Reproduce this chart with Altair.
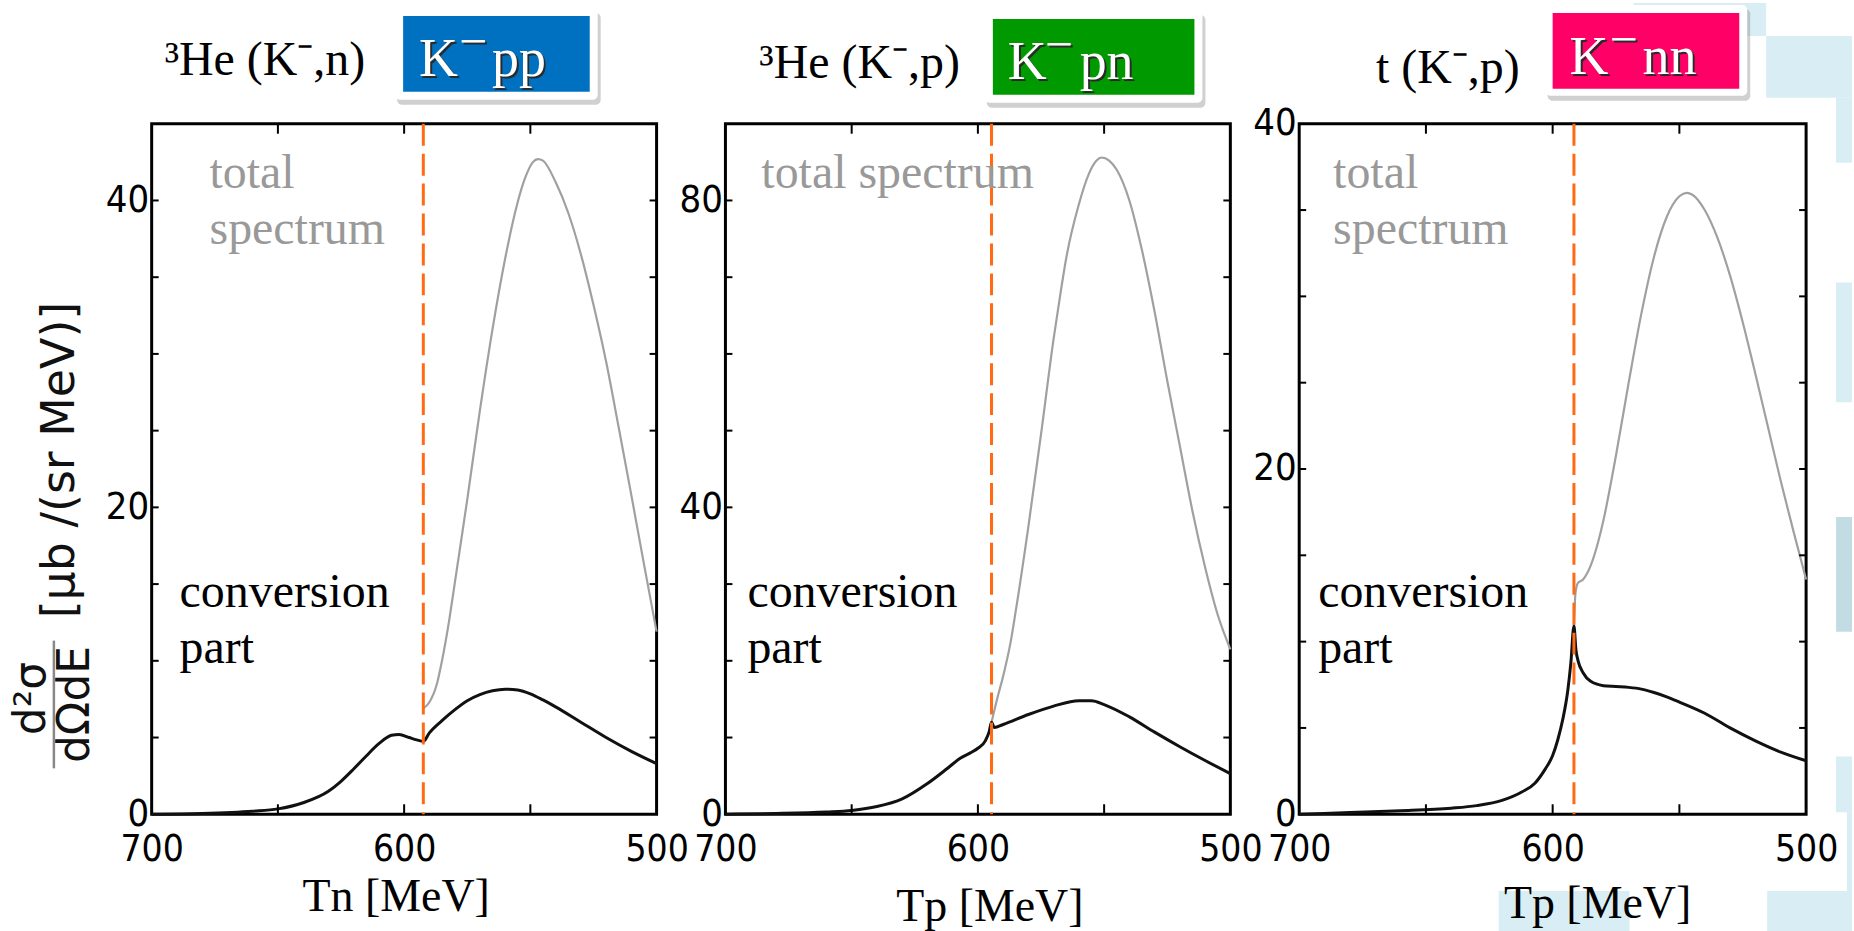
import altair as alt
import pandas as pd

# ---------------- data ----------------
# panel 1 : 3He(K-,n)  K-pp
T1_conv = [700, 680, 660, 650, 640, 630, 625, 620, 615, 610, 605, 602, 598, 595, 592.4,
           590, 585, 580, 575, 570, 565, 560, 555, 550, 545, 540, 530, 520, 510, 500]
V1_conv = [0.0, 0.05, 0.2, 0.35, 0.75, 1.5, 2.15, 2.95, 3.8, 4.6, 5.15, 5.2, 5.0, 4.85, 4.75,
           5.3, 6.1, 6.8, 7.4, 7.8, 8.05, 8.15, 8.1, 7.85, 7.45, 7.0, 6.0, 5.0, 4.1, 3.3]
T1_tot = [592.4, 590, 587, 585, 582, 580, 575, 570, 565, 560, 555, 552, 549, 547, 545,
          540, 535, 530, 525, 520, 515, 510, 505, 500]
V1_tot = [6.9, 7.3, 8.5, 10.0, 12.8, 15.0, 20.5, 26.3, 31.6, 36.2, 39.9, 41.5, 42.5, 42.7, 42.6,
          41.2, 39.2, 36.5, 33.2, 29.5, 25.2, 20.8, 16.3, 11.9]

# panel 2 : 3He(K-,p)  K-pn
T2_conv = [700, 680, 660, 650, 640, 630, 620, 612, 607, 603, 600, 597, 595.5, 594.6, 593.5,
           590, 580, 570, 560, 555, 550, 540, 530, 520, 510, 500]
V2_conv = [0.0, 0.1, 0.3, 0.5, 1.0, 2.0, 4.0, 6.0, 7.3, 8.0, 8.6, 9.6, 10.8, 12.0, 11.3,
           11.7, 13.0, 14.1, 14.8, 14.8, 14.3, 12.7, 10.7, 8.8, 7.0, 5.3]
T2_tot = [594.6, 592, 590, 587, 585, 580, 575, 570, 567, 565, 560, 556, 553, 551, 548,
          545, 540, 535, 530, 525, 520, 515, 510, 505, 500]
V2_tot = [12.0, 15.5, 18.0, 22.5, 26.5, 37.5, 49.5, 62.0, 68.5, 72.5, 79.5, 83.5, 85.2, 85.6, 85.2,
          84.0, 80.0, 73.5, 65.5, 56.5, 48.0, 39.5, 32.2, 26.0, 21.5]

# panel 3 : t(K-,p)  K-nn
T3_conv = [700, 680, 660, 640, 630, 620, 612, 607, 603, 600, 598, 596, 594, 592.8, 591.6,
           590.8, 590, 588, 585, 580, 575, 570, 565, 560, 555, 550, 540, 530, 520, 510, 500]
V3_conv = [0.0, 0.1, 0.2, 0.35, 0.5, 0.8, 1.3, 1.8, 2.6, 3.4, 4.3, 5.5, 7.2, 8.8, 10.9,
           9.5, 8.9, 8.2, 7.7, 7.45, 7.4, 7.35, 7.25, 7.05, 6.8, 6.5, 5.85, 5.0, 4.25, 3.6, 3.1]
T3_tot = [591.6, 591.0, 590, 588, 585, 582, 580, 575, 570, 565, 560, 555, 550, 547, 545,
          540, 535, 530, 525, 520, 515, 510, 505, 500]
V3_tot = [10.9, 12.8, 13.4, 13.6, 14.4, 15.8, 17.0, 20.8, 25.0, 29.0, 32.3, 34.6, 35.8, 36.0, 35.9,
          35.0, 33.4, 31.2, 28.5, 25.5, 22.4, 19.3, 16.4, 13.6]

thresholds = [592.4, 594.6, 591.6]
y_max = [45, 90, 40]
y_labels = [[0, 20, 40], [0, 40, 80], [0, 20, 40]]
y_ticks = [[5, 10, 15, 20, 25, 30, 35, 40],
           [10, 20, 30, 40, 50, 60, 70, 80],
           [5, 10, 15, 20, 25, 30, 35]]
x_labels = [700, 600, 500]
x_ticks = [650, 600, 550]
reactions = ["³He (K⁻,n)", "³He (K⁻,p)", "t (K⁻,p)"]
state_base = ["K", "K", "K"]
state_tail = ["pp", "pn", "nn"]
state_colors = ["#0070C0", "#009900", "#FF0066"]
x_titles = ["Tn [MeV]", "Tp [MeV]", "Tp [MeV]"]
total_lines = [["total", "spectrum"], ["total spectrum"], ["total", "spectrum"]]
conv_lines = ["conversion", "part"]

# ---------------- layout / style ----------------
WIDTHS = [506, 506, 508]
H = 692
SERIF = "Liberation Serif, Times New Roman, serif"
NARROW = "'Liberation Sans Narrow', 'DejaVu Sans Condensed', 'Arial Narrow', sans-serif"
SANS = "DejaVu Sans, sans-serif"
DECO = "#D8EEF4"

# per-panel placement of annotations (pixels relative to plot area)
title_pos = [(13, -49), (34, -46), (77, -41)]
box_outer = [(244, 447, -115, -24), (260, 478, -113, -21), (247, 449, -119, -28)]
box_inner = [(252, 439, -108, -32), (268, 470, -105, -29), (254, 441, -111, -35)]
# K left x, minus centre x, tail left x, baseline
box_text = [(268, 322, 341, -48), (283, 334, 355, -45), (271, 325, 344, -50)]
total_pos = [(58, 64), (36, 64), (34, 64)]
conv_pos = [(28, 484), (22, 484), (19, 484)]
xtitle_pos = [(245, 789), (265, 799), (299, 796)]


def one():
    return pd.DataFrame({"a": [0]})


def txt(s, x, y, size, color="black", font=SERIF, align="left", baseline="alphabetic", angle=0):
    kw = dict(text=s, fontSize=size, color=color, font=font, align=align, baseline=baseline)
    if angle:
        kw["angle"] = angle
    return alt.Chart(one()).mark_text(**kw).encode(x=alt.value(x), y=alt.value(y))


def rect(x1, x2, y1, y2, color, **kw):
    return alt.Chart(one()).mark_rect(color=color, **kw).encode(
        x=alt.value(x1), x2=alt.value(x2), y=alt.value(y1), y2=alt.value(y2))


def panel(i, Tc, Vc, Tt, Vt):
    W = WIDTHS[i]
    xscale = alt.Scale(domain=[500, 700], reverse=True, nice=False, zero=False)
    yscale = alt.Scale(domain=[0, y_max[i]], nice=False, zero=True)
    X = alt.X("T:Q", scale=xscale, axis=alt.Axis(
        values=x_labels, format="d", title=None, grid=False, ticks=False, tickSize=0,
        domain=False, labelFont=NARROW, labelFontSize=37, labelColor="black",
        labelPadding=17, labelFlush=False, labelOverlap=False))
    Y = alt.Y("v:Q", scale=yscale, axis=alt.Axis(
        values=y_labels[i], format="d", title=None, grid=False, ticks=False, tickSize=0,
        domain=False, labelFont=NARROW, labelFontSize=38, labelColor="black",
        labelPadding=3, labelFlush=False, labelOverlap=False))

    conv = pd.DataFrame({"T": Tc, "v": Vc})
    tot = pd.DataFrame({"T": Tt, "v": Vt})
    order = alt.Order("T:Q", sort="descending")

    layers = []
    if i == 0:
        # invisible anchor that spans the whole 1854x931 canvas
        layers.append(rect(-150, 1704, -121, 810, "white", opacity=0))
        # pale slide decoration along the right edge (drawn first, under everything)
        o = 1150
        layers += [
            rect(o + 335, o + 468, -121, -88, DECO),
            rect(o + 468, o + 554, -88, -26, DECO),
            rect(o + 538, o + 554, -26, 39, DECO),
            rect(o + 538, o + 554, 159, 279, DECO),
            rect(o + 538, o + 554, 394, 509, "#C3DCE3"),
            rect(o + 538, o + 554, 634, 690, DECO),
            rect(o + 549, o + 554, 690, 769, DECO),
            rect(o + 200, o + 331, 769, 810, DECO),
            rect(o + 469, o + 554, 769, 810, DECO),
        ]

    # box shadows and boxes (titles above the panel)
    ox1, ox2, oy1, oy2 = box_outer[i]
    ix1, ix2, iy1, iy2 = box_inner[i]
    layers.append(rect(ox1 + 2, ox2 + 3, oy1 + 4, oy2 + 5, "#8a8a8a", opacity=0.4, cornerRadius=5))
    layers.append(rect(ox1, ox2, oy1, oy2, "white", cornerRadius=5))
    layers.append(rect(ix1, ix2, iy1, iy2, state_colors[i]))
    kx, mx, tx_, by = box_text[i]
    for dx, dy, col in [(2, 2, "#2a2a2a"), (0, 0, "white")]:
        layers.append(txt(state_base[i], kx + dx, by + dy, 54, color=col))
        layers.append(txt("−", mx + dx, by - 18 + dy, 50, color=col, align="center"))
        layers.append(txt(state_tail[i], tx_ + dx, by + dy, 54, color=col))
    layers.append(txt(reactions[i], title_pos[i][0], title_pos[i][1], 48))

    # curves
    layers.append(alt.Chart(tot).mark_line(color="#a0a0a0", strokeWidth=2.2, interpolate="monotone")
                  .encode(x=X, y=Y, order=order))
    layers.append(alt.Chart(conv).mark_line(color="#111111", strokeWidth=3, interpolate="monotone")
                  .encode(x=X, y=Y, order=order))

    # threshold
    layers.append(alt.Chart(pd.DataFrame({"T": [thresholds[i]]}))
                  .mark_rule(color="#FF6A13", strokeWidth=3, strokeDash=[22, 8])
                  .encode(x=X, y=alt.value(0), y2=alt.value(H)))

    # inward ticks on all four sides
    yt = pd.DataFrame({"v": y_ticks[i]})
    xt = pd.DataFrame({"T": x_ticks})
    layers.append(alt.Chart(yt).mark_rule(color="black", strokeWidth=2)
                  .encode(y=Y, x=alt.value(0), x2=alt.value(7)))
    layers.append(alt.Chart(yt).mark_rule(color="black", strokeWidth=2)
                  .encode(y=Y, x=alt.value(W - 7), x2=alt.value(W)))
    layers.append(alt.Chart(xt).mark_rule(color="black", strokeWidth=2)
                  .encode(x=X, y=alt.value(0), y2=alt.value(10)))
    layers.append(alt.Chart(xt).mark_rule(color="black", strokeWidth=2)
                  .encode(x=X, y=alt.value(H - 10), y2=alt.value(H)))

    # annotations
    tx, ty = total_pos[i]
    for k, line in enumerate(total_lines[i]):
        layers.append(txt(line, tx, ty + 57 * k, 48, color="#999999"))
    cx, cy = conv_pos[i]
    for k, line in enumerate(conv_lines):
        layers.append(txt(line, cx, cy + 56 * k, 48))

    # x-axis title
    layers.append(txt(x_titles[i], xtitle_pos[i][0], xtitle_pos[i][1], 46, align="center"))

    if i == 0:
        # y-axis title: d2sigma / dOmega dE [mub /(sr MeV)]
        layers.append(txt("[μb /(sr MeV)]", -92, 337, 46, font=SANS, align="center",
                          baseline="middle", angle=270, color="#111111"))
        layers.append(txt("d²σ", -120, 576, 44, font=SANS, align="center",
                          baseline="middle", angle=270, color="#111111"))
        layers.append(txt("dΩdE", -76, 582, 44, font=SANS, align="center",
                          baseline="middle", angle=270, color="#111111"))
        layers.append(alt.Chart(one()).mark_rule(color="#888888", strokeWidth=2.5)
                      .encode(x=alt.value(-98), y=alt.value(518), y2=alt.value(646)))

    return alt.layer(*layers).properties(width=W, height=H)


p1 = panel(0, T1_conv, V1_conv, T1_tot, V1_tot)
p2 = panel(1, T2_conv, V2_conv, T2_tot, V2_tot)
p3 = panel(2, T3_conv, V3_conv, T3_tot, V3_tot)

chart = alt.hconcat(p1, p2, p3, spacing=69, bounds="flush").properties(
    padding=0, background="white"
).configure_view(stroke="black", strokeWidth=3, fill=None)

chart.save("out.html", embed_options={"renderer": "svg", "actions": False})
